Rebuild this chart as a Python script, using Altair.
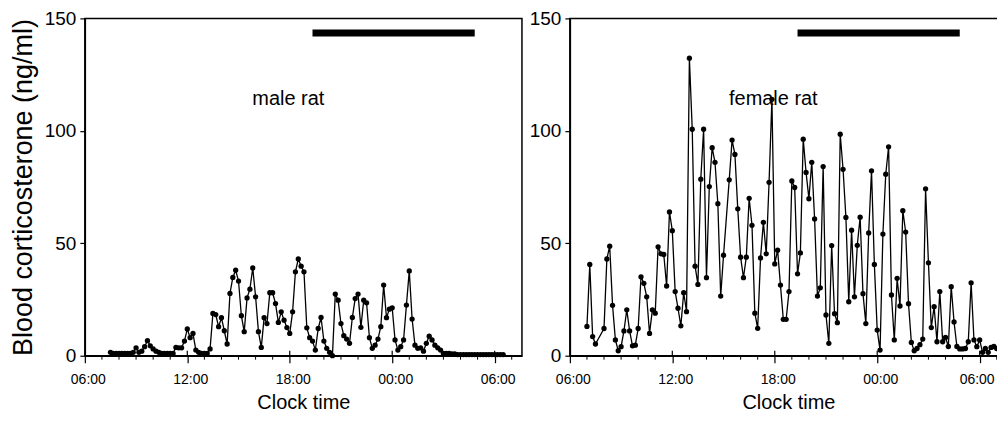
import altair as alt
import pandas as pd

# ---- data (minutes after 06:00 of day 1) ----
male_start_min = 90          # first male sample 07:30
sample_step_min = 10
male_values = [
    1.5, 1, 1, 1, 1, 1, 1, 1, 1.5, 3.5,
    1.5, 2, 4, 6.7, 4.4, 3, 2, 1.5, 1, 1,
    1, 1, 1, 3.7, 3.5, 3.5, 6.5, 11.9, 8, 9.9,
    2.5, 1.5, 1, 1, 1, 3, 18.8, 18.3, 12.9, 16.9,
    11.1, 5.2, 27.7, 34.8, 38, 33.2, 17.8, 10.7, 25.7, 29.6,
    39, 26.2, 10.7, 3.7, 16.9, 14.3, 28, 28, 23.2, 14.8,
    19.5, 15.8, 12.5, 9.9, 19.5, 37.3, 43, 39.8, 37.3, 12.4,
    8, 6.5, 2.5, 12.1, 17, 6.5, 3.3, 1.5, 0, 27.4,
    24.7, 14.3, 8.9, 7.4, 5.5, 17, 25.4, 27.4, 12.6, 24.7,
    23.5, 8, 3.3, 4.7, 7.4, 12.9, 31.4, 16.9, 20.7, 21.3,
    7, 2.5, 4, 7, 22.5, 37.7, 16.3, 4.7, 3.3, 3.5,
    2, 5.5, 8.7, 7, 4.7, 3.5, 2.5, 1, 1, 1,
    0.8, 0.8, 0.5, 0.5, 0.5, 0.5, 0.5, 0.5, 0.5, 0.5,
    0.5, 0.5, 0.5, 0.5, 0.5, 0.5, 0.5, 0.5, 0.5,
]

female_start_min = 60        # first female sample 07:00 (None = sample missing)
female_values = [
    13, 40.6, 8.5, 5.2, None, None, 12.1, 43, 48.7, 22.4,
    7, 2.2, 4, 11, 20.4, 11, 4.4, 4.7, 12.1, 35.1,
    32.2, 26.2, 9.9, 20.4, 18.9, 48.4, 45.3, 45, 31, 63.9,
    55.6, 28.5, 21.1, 13.3, 28, 19.6, 132.3, 100.7, 39.8, 31.7,
    78.5, 100.7, 34.7, 75.2, 92.5, 86, 67.6, 26.5, 44.7, None,
    78.2, 95.9, 89.5, 65.3, 43.8, 34.7, 43.8, 70, 58, 18.9,
    12.2, 43.5, 59.3, 45.3, 77.1, 114, 40.8, 46.9, 31.4, 16.2,
    16.2, 28.5, 77.7, 74.8, 36.4, 45.7, 96.3, 81.5, 69.8, 86,
    60.8, 26.5, 30.2, 84.1, 18.1, 5.5, 49, 18.7, 14.7, 98.5,
    82.9, 61.5, 24, 55.8, 26.2, 49.1, 61.6, 27.6, 14.3, 54.6,
    82.2, 40.6, 11.4, 2.5, 54.1, 80.7, 92.9, 27, 7, 34.4,
    22.1, 64.5, 55, 23.1, 5.9, 2.2, 3.2, 4.9, 7.4, 74.2,
    41.3, 12.5, 21.8, 6.2, 28.5, 6.2, 8.1, 4.1, 30.7, 15,
    4.1, 3, 3, 3.2, 6.2, 32.4, 7, 4, 7, 1.5,
    3.2, 1.5, 3.7, 4.1, 3.2, 2.2,
]

x_tick_values = [0, 360, 720, 1080, 1440]
x_tick_labels = ["06:00", "12:00", "18:00", "00:00", "06:00"]
minor_tick_values = [h * 60 for h in range(1, 26) if (h * 60) not in x_tick_values]
y_tick_values = [0, 50, 100, 150]

dark_start_min = 800     # 19:20
dark_end_min = 1370      # 04:50
dark_bar_level = 143.5
label_pos_min = 715
label_level = 114
panel_labels = ["male rat", "female rat"]

x_domain = [0, 1536]
y_domain = [0, 150]

FONT = "Liberation Sans"
W, H = 438, 338

label_expr = " : ".join(
    f"datum.value == {v} ? '{l}'" for v, l in zip(x_tick_values, x_tick_labels)
) + " : ''"


def series_df(start, values):
    return pd.DataFrame({
        "t": [start + sample_step_min * i for i in range(len(values))],
        "v": values,
    })


def panel(df, label, y_title, last_label_shift):
    xs = alt.Scale(domain=x_domain, nice=False, zero=False)
    ys = alt.Scale(domain=y_domain, nice=False)
    label_offset = {
        "condition": {"test": f"datum.value == {x_tick_values[-1]}",
                      "value": last_label_shift},
        "value": 3,
    }
    x_axis = alt.Axis(values=x_tick_values, labelExpr=label_expr, tickSize=7,
                      labelPadding=10, labelFontSize=14, labelFlush=False,
                      labelOffset=label_offset, title="Clock time",
                      titleFontSize=20, titlePadding=6, titleFontWeight="normal",
                      grid=False, domainColor="black", tickColor="black",
                      labelColor="black", titleColor="black", domainWidth=1.5,
                      tickWidth=1.2, labelFont=FONT, titleFont=FONT)
    if y_title:
        y_axis = alt.Axis(values=y_tick_values, tickSize=5, labelPadding=4,
                          labelFontSize=19, title=y_title, titleFontSize=27,
                          titlePadding=7, titleFontWeight="normal", grid=False,
                          domainColor="black", tickColor="black",
                          labelColor="black", titleColor="black",
                          domainWidth=1.5, tickWidth=1.2, labelFont=FONT,
                          titleFont=FONT, labelFlush=False)
    else:
        y_axis = alt.Axis(values=y_tick_values, tickSize=5, labelPadding=4,
                          labelFontSize=19, title=None, grid=False,
                          domainColor="black", tickColor="black",
                          labelColor="black", domainWidth=1.5, tickWidth=1.2,
                          labelFont=FONT, labelFlush=False)

    base = alt.Chart(df).transform_filter("isValid(datum.v)")
    line = base.mark_line(color="black", strokeWidth=1.3).encode(
        x=alt.X("t:Q", scale=xs, axis=x_axis),
        y=alt.Y("v:Q", scale=ys, axis=y_axis),
    )
    pts = base.mark_circle(size=28, color="black", opacity=1).encode(
        x=alt.X("t:Q", scale=xs), y=alt.Y("v:Q", scale=ys)
    )
    bar_df = pd.DataFrame({"t": [dark_start_min], "t2": [dark_end_min],
                           "v": [dark_bar_level]})
    bar = alt.Chart(bar_df).mark_rule(color="black", strokeWidth=7,
                                      strokeCap="butt").encode(
        x=alt.X("t:Q", scale=xs), x2="t2:Q", y=alt.Y("v:Q", scale=ys)
    )
    txt_df = pd.DataFrame({"t": [label_pos_min], "v": [label_level],
                           "label": [label]})
    txt = alt.Chart(txt_df).mark_text(font=FONT, fontSize=20, color="black",
                                      align="center", baseline="middle").encode(
        x=alt.X("t:Q", scale=xs), y=alt.Y("v:Q", scale=ys), text="label:N"
    )
    minor_df = pd.DataFrame({"t": minor_tick_values})
    minor = alt.Chart(minor_df).mark_rule(color="black", strokeWidth=1).encode(
        x=alt.X("t:Q", scale=xs), y=alt.value(H), y2=alt.value(H + 4)
    )
    major_df = pd.DataFrame({"t": x_tick_values[1:]})
    major_up = alt.Chart(major_df).mark_rule(color="black", strokeWidth=1.2).encode(
        x=alt.X("t:Q", scale=xs), y=alt.value(H - 5), y2=alt.value(H)
    )
    return alt.layer(line, pts, bar, txt, minor, major_up).properties(
        width=W, height=H
    )


left = panel(series_df(male_start_min, male_values), panel_labels[0],
             "Blood corticosterone (ng/ml)", 3)
right = panel(series_df(female_start_min, female_values), panel_labels[1],
              None, -3)

chart = (
    alt.hconcat(left, right, spacing=5)
    .properties(padding={"left": 0, "top": 0, "right": -11, "bottom": 0},
                background="white")
    .configure(font=FONT)
    .configure_view(stroke="black", strokeWidth=1.5)
)

chart.save("out.html", embed_options={"renderer": "svg", "actions": False})
